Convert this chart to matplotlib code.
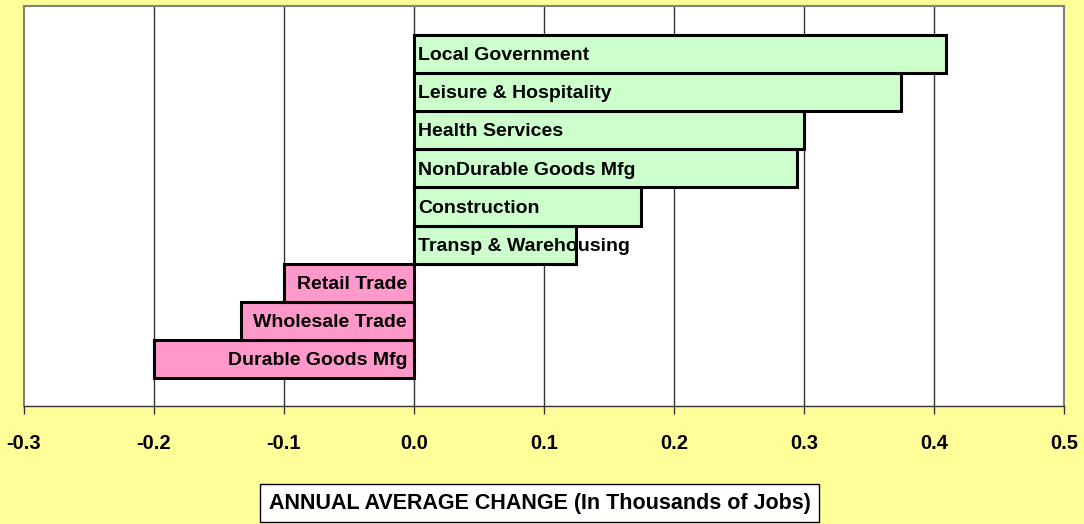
"""
Annual average job change by industry, horizontal bar chart
"""
import matplotlib
matplotlib.use("Agg")
import matplotlib.pyplot as plt

# data, bottom to top
industries = [
    "Durable Goods Mfg",
    "Wholesale Trade",
    "Retail Trade",
    "Transp & Warehousing",
    "Construction",
    "NonDurable Goods Mfg",
    "Health Services",
    "Leisure & Hospitality",
    "Local Government",
]
changes = [-0.200, -0.133, -0.100, 0.125, 0.175, 0.295, 0.300, 0.375, 0.409]
x_ticks = [-0.3, -0.2, -0.1, 0.0, 0.1, 0.2, 0.3, 0.4, 0.5]
x_title = "ANNUAL AVERAGE CHANGE (In Thousands of Jobs)"

plt.rcParams['font.family'] = ['Liberation Sans', 'DejaVu Sans']

fig = plt.figure(figsize=(10.84, 5.24), dpi=100, facecolor='#FFFF99')
ax = fig.add_axes([0.0221, 0.2252, 0.9594, 0.7633])
ax.set_facecolor('white')

colors = ['#FF99CC' if v < 0 else '#CCFFCC' for v in changes]
ypos = list(range(len(industries)))
ax.barh(ypos, changes, height=1.0, color=colors, edgecolor='black',
        linewidth=2.2, zorder=3)

# labels inside the bars, anchored at zero
for y, name, v in zip(ypos, industries, changes):
    if v < 0:
        ax.annotate(name, (0, y), xytext=(-5, -1.2), textcoords='offset points',
                    ha='right', va='center', fontsize=14, fontweight='bold',
                    zorder=4)
    else:
        ax.annotate(name, (0, y), xytext=(3, -1.2), textcoords='offset points',
                    ha='left', va='center', fontsize=14, fontweight='bold',
                    zorder=4)

ax.set_xlim(-0.3, 0.5)
ax.set_ylim(-0.5 - 0.735, len(industries) - 0.5 + 0.76)
ax.set_xticks(x_ticks)
ax.set_xticklabels([f"{t:.1f}" for t in x_ticks], fontsize=14.5,
                   fontweight='bold')
ax.set_yticks([])
ax.tick_params(axis='x', direction='out', length=6, width=1, pad=14,
               color='#333333')

for t in x_ticks[1:-1]:
    ax.axvline(t, color='#333333', linewidth=1, zorder=1)

for side in ['top', 'left', 'right']:
    ax.spines[side].set_color('#808080')
    ax.spines[side].set_linewidth(1.5)
ax.spines['bottom'].set_color('#333333')
ax.spines['bottom'].set_linewidth(1)

fig.text(0.4977, 0.040, x_title, ha='center', va='center', fontsize=15.5,
         fontweight='bold',
         bbox=dict(boxstyle='square,pad=0.4', facecolor='white',
                   edgecolor='black', linewidth=1))

plt.savefig("out.png", dpi=100, facecolor=fig.get_facecolor())
